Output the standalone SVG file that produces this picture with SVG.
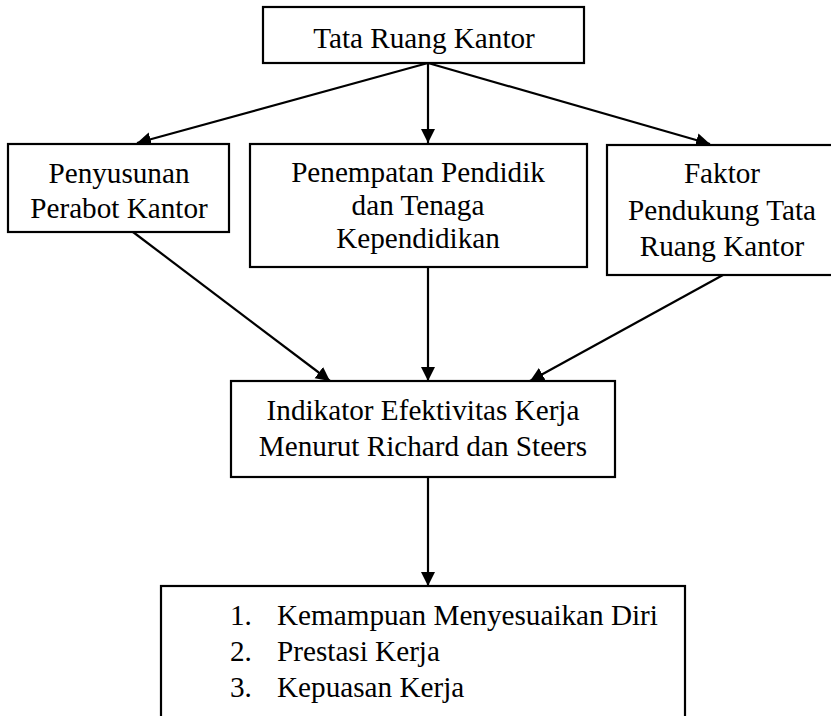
<svg xmlns="http://www.w3.org/2000/svg" width="831" height="716" viewBox="0 0 831 716">
<style>
  .box { fill: #ffffff; stroke: #000000; stroke-width: 2.2; }
  .t { font-family: "Liberation Serif", "Times New Roman", serif; font-size: 29.2px; fill: #000000; }
  .c { text-anchor: middle; }
  .conn { stroke: #000000; stroke-width: 2.2; fill: none; marker-end: url(#arr); }
</style>
<defs>
  <marker id="arr" markerUnits="userSpaceOnUse" markerWidth="15" markerHeight="15" refX="14" refY="7" orient="auto">
    <path d="M0,0 L14,7 L0,14 z" fill="#000000"/>
  </marker>
</defs>
<rect width="831" height="716" fill="#ffffff"/>
<g id="connectors">
  <line class="conn" x1="428" y1="63" x2="428" y2="143"/>
  <line class="conn" x1="428" y1="63" x2="137" y2="143"/>
  <line class="conn" x1="428" y1="63" x2="710" y2="144"/>
  <line class="conn" x1="133" y1="232" x2="330" y2="381"/>
  <line class="conn" x1="428" y1="267" x2="428" y2="381"/>
  <line class="conn" x1="723" y1="275" x2="530" y2="381"/>
  <line class="conn" x1="428" y1="477" x2="428" y2="586"/>
</g>
<g id="tata-ruang">
  <rect class="box" x="263" y="7" width="321" height="56"/>
  <text class="t c" x="424" y="48">Tata Ruang Kantor</text>
</g>
<g id="penyusunan">
  <rect class="box" x="8" y="144" width="221" height="88"/>
  <text class="t c" x="119" y="183">Penyusunan</text>
  <text class="t c" x="119" y="218">Perabot Kantor</text>
</g>
<g id="penempatan">
  <rect class="box" x="250" y="144" width="337" height="123"/>
  <text class="t c" x="418" y="182">Penempatan Pendidik</text>
  <text class="t c" x="418" y="215">dan Tenaga</text>
  <text class="t c" x="418" y="248">Kependidikan</text>
</g>
<g id="faktor">
  <rect class="box" x="607" y="145" width="235" height="130"/>
  <text class="t c" x="722" y="183">Faktor</text>
  <text class="t c" x="722" y="220">Pendukung Tata</text>
  <text class="t c" x="722" y="256">Ruang Kantor</text>
</g>
<g id="indikator">
  <rect class="box" x="231" y="381" width="384" height="96"/>
  <text class="t c" x="423" y="420">Indikator Efektivitas Kerja</text>
  <text class="t c" x="423" y="456">Menurut Richard dan Steers</text>
</g>
<g id="daftar">
  <rect class="box" x="161" y="586" width="524" height="150"/>
  <text class="t" x="230" y="625">1.</text>
  <text class="t" x="277" y="625">Kemampuan Menyesuaikan Diri</text>
  <text class="t" x="230" y="661">2.</text>
  <text class="t" x="277" y="661">Prestasi Kerja</text>
  <text class="t" x="230" y="697">3.</text>
  <text class="t" x="277" y="697">Kepuasan Kerja</text>
</g>
</svg>
